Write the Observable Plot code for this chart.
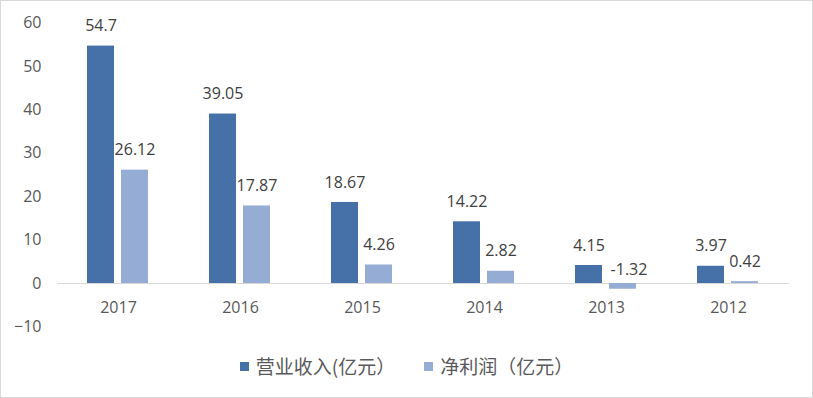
<!DOCTYPE html>
<html>
<head>
<meta charset="utf-8">
<script src="https://cdn.jsdelivr.net/npm/d3@7"></script>
<script src="https://cdn.jsdelivr.net/npm/@observablehq/plot@0.6"></script>
<style>
  html, body { margin: 0; padding: 0; background: #fff; }
  #frame { position: relative; width: 813px; height: 398px; box-sizing: border-box; border: 1px solid #d9d9d9; background: #fff; overflow: hidden; }
  #chart svg { display: block; }
  #legend { display: flex; justify-content: center; align-items: center; gap: 29px; padding-top: 14px; font-family: "Noto Sans CJK SC", sans-serif; font-size: 19px; color: #595959; line-height: 22px; }
  .item { display: flex; align-items: center; gap: 7px; }
  .sw { width: 9px; height: 9px; display: inline-block; }
</style>
</head>
<body>
<div id="frame">
  <div id="chart"></div>
  <div id="legend"></div>
</div>
<script>
const years = ["2017", "2016", "2015", "2014", "2013", "2012"];
const seriesNames = ["营业收入(亿元）", "净利润（亿元）"];
const revenue = [54.7, 39.05, 18.67, 14.22, 4.15, 3.97];
const profit = [26.12, 17.87, 4.26, 2.82, -1.32, 0.42];
const yTicks = [-10, 0, 10, 20, 30, 40, 50, 60];
const colors = ["#4571a8", "#95acd4"];

const data = [];
years.forEach((y, i) => {
  data.push({year: y, series: seriesNames[0], value: revenue[i]});
  data.push({year: y, series: seriesNames[1], value: profit[i]});
});

const chart = Plot.plot({
  width: 811,
  height: 340,
  marginLeft: 55,
  marginRight: 22,
  marginTop: 21.6,
  marginBottom: 14.6,
  style: {fontFamily: "'Open Sans', sans-serif", fontSize: "16px", color: "#595959", background: "#fff"},
  fx: {domain: years, padding: 0, axis: null},
  x: {domain: seriesNames, paddingInner: 0.2, paddingOuter: 0.85, axis: null},
  y: {domain: [-10, 60], axis: null},
  color: {domain: seriesNames, range: colors},
  marks: [
    Plot.axisY({ticks: yTicks, tickSize: 0, tickPadding: 16, label: null, facetAnchor: "left", fill: "#595959", fontSize: 16}),
    Plot.ruleY([0], {stroke: "#d9d9d9", strokeWidth: 1}),
    Plot.barY(data, {fx: "year", x: "series", y: "value", fill: "series", inset: 0}),
    Plot.text(data.filter(d => d.value >= 0), {fx: "year", x: "series", y: "value", text: d => String(d.value), dy: -20, fill: "#404040", fontSize: 16}),
    Plot.text(data.filter(d => d.value < 0), {fx: "year", x: "series", y: () => 0, text: d => String(d.value), dy: -14, dx: 6, fill: "#404040", fontSize: 16}),
    Plot.text(years, {fx: d => d, y: () => 0, text: d => d, dy: 24.5, fill: "#595959", fontSize: 16})
  ]
});
document.getElementById("chart").appendChild(chart);

const legend = document.getElementById("legend");
seriesNames.forEach((name, i) => {
  const item = document.createElement("div");
  item.className = "item";
  const sw = document.createElement("span");
  sw.className = "sw";
  sw.style.background = colors[i];
  const label = document.createElement("span");
  label.textContent = name;
  item.appendChild(sw);
  item.appendChild(label);
  legend.appendChild(item);
});
</script>
</body>
</html>
